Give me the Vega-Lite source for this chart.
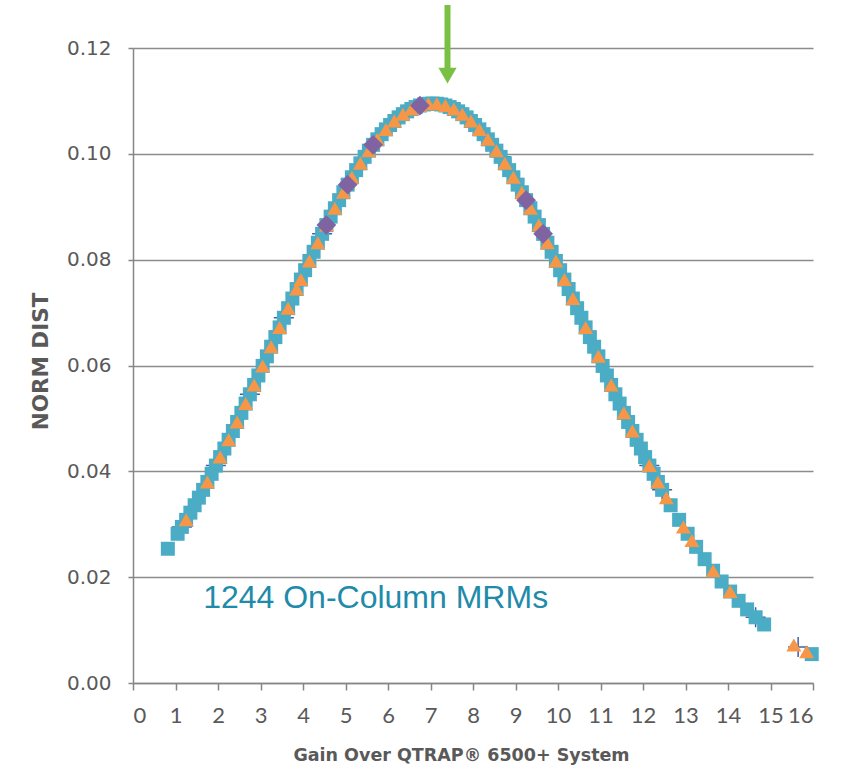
{
  "$schema": "https://vega.github.io/schema/vega-lite/v6.json",
  "autosize": "none",
  "width": 680,
  "height": 635,
  "padding": {"left": 133, "top": 48, "right": 33, "bottom": 86},
  "background": "white",
  "config": {"view": {"stroke": null}},
  "datasets": {
    "teal": [
      {"x":0.82,"y":0.02537},
      {"x":1.05,"y":0.02820},{"x":1.15,"y":0.02950},{"x":1.25,"y":0.03083},{"x":1.35,"y":0.03219},{"x":1.45,"y":0.03359},
      {"x":1.55,"y":0.03503},{"x":1.65,"y":0.03650},{"x":1.75,"y":0.03800},{"x":1.85,"y":0.03953},{"x":1.95,"y":0.04109},
      {"x":2.05,"y":0.04269},{"x":2.15,"y":0.04431},{"x":2.25,"y":0.04596},{"x":2.35,"y":0.04763},{"x":2.45,"y":0.04933},
      {"x":2.55,"y":0.05105},{"x":2.65,"y":0.05280},{"x":2.75,"y":0.05456},{"x":2.85,"y":0.05633},{"x":2.95,"y":0.05812},
      {"x":3.05,"y":0.05992},{"x":3.15,"y":0.06173},{"x":3.25,"y":0.06355},{"x":3.35,"y":0.06537},{"x":3.45,"y":0.06720},
      {"x":3.55,"y":0.06902},{"x":3.65,"y":0.07083},{"x":3.75,"y":0.07265},{"x":3.85,"y":0.07445},{"x":3.95,"y":0.07624},
      {"x":4.05,"y":0.07801},{"x":4.15,"y":0.07976},{"x":4.25,"y":0.08149},{"x":4.35,"y":0.08320},{"x":4.45,"y":0.08488},
      {"x":4.55,"y":0.08653},{"x":4.65,"y":0.08814},{"x":4.75,"y":0.08971},{"x":4.85,"y":0.09125},{"x":4.95,"y":0.09274},
      {"x":5.05,"y":0.09418},{"x":5.15,"y":0.09557},{"x":5.25,"y":0.09692},{"x":5.35,"y":0.09820},{"x":5.45,"y":0.09943},
      {"x":5.55,"y":0.10060},{"x":5.65,"y":0.10170},{"x":5.75,"y":0.10274},{"x":5.85,"y":0.10372},{"x":5.95,"y":0.10462},
      {"x":6.05,"y":0.10545},{"x":6.15,"y":0.10621},{"x":6.25,"y":0.10689},{"x":6.35,"y":0.10750},{"x":6.45,"y":0.10803},
      {"x":6.55,"y":0.10847},{"x":6.65,"y":0.10884},{"x":6.75,"y":0.10913},{"x":6.85,"y":0.10933},{"x":6.95,"y":0.10946},
      {"x":7.05,"y":0.10950},
      {"x":7.15,"y":0.10946},{"x":7.25,"y":0.10933},{"x":7.35,"y":0.10913},{"x":7.45,"y":0.10884},{"x":7.55,"y":0.10847},
      {"x":7.65,"y":0.10803},{"x":7.75,"y":0.10750},{"x":7.85,"y":0.10689},{"x":7.95,"y":0.10621},{"x":8.05,"y":0.10545},
      {"x":8.15,"y":0.10462},{"x":8.25,"y":0.10372},{"x":8.35,"y":0.10274},{"x":8.45,"y":0.10170},{"x":8.55,"y":0.10060},
      {"x":8.65,"y":0.09943},{"x":8.75,"y":0.09820},{"x":8.85,"y":0.09692},{"x":8.95,"y":0.09557},{"x":9.05,"y":0.09418},
      {"x":9.15,"y":0.09274},{"x":9.25,"y":0.09125},{"x":9.35,"y":0.08971},{"x":9.45,"y":0.08814},{"x":9.55,"y":0.08653},
      {"x":9.65,"y":0.08488},{"x":9.75,"y":0.08320},{"x":9.85,"y":0.08149},{"x":9.95,"y":0.07976},{"x":10.05,"y":0.07801},
      {"x":10.15,"y":0.07624},{"x":10.25,"y":0.07445},{"x":10.35,"y":0.07265},{"x":10.45,"y":0.07083},{"x":10.55,"y":0.06902},
      {"x":10.65,"y":0.06720},{"x":10.75,"y":0.06537},{"x":10.85,"y":0.06355},{"x":10.95,"y":0.06173},{"x":11.05,"y":0.05992},
      {"x":11.15,"y":0.05812},{"x":11.25,"y":0.05633},{"x":11.35,"y":0.05456},{"x":11.45,"y":0.05280},{"x":11.55,"y":0.05105},
      {"x":11.65,"y":0.04933},{"x":11.75,"y":0.04763},{"x":11.85,"y":0.04596},{"x":11.95,"y":0.04431},{"x":12.05,"y":0.04269},
      {"x":12.15,"y":0.04109},{"x":12.25,"y":0.03953},{"x":12.35,"y":0.03800},{"x":12.45,"y":0.03650},
      {"x":12.65,"y":0.03359},{"x":12.85,"y":0.03083},{"x":13.05,"y":0.02820},{"x":13.25,"y":0.02573},{"x":13.45,"y":0.02340},
      {"x":13.65,"y":0.02122},{"x":13.85,"y":0.01918},{"x":14.05,"y":0.01728},{"x":14.25,"y":0.01553},{"x":14.45,"y":0.01391},
      {"x":14.65,"y":0.01242},{"x":14.85,"y":0.01106},
      {"x":15.97,"y":0.00546}
    ],
    "orange": [
      {"x":1.25,"y":0.03083},{"x":1.75,"y":0.03800},{"x":2.05,"y":0.04269},{"x":2.25,"y":0.04596},{"x":2.45,"y":0.04933},
      {"x":2.65,"y":0.05280},{"x":2.85,"y":0.05633},{"x":3.05,"y":0.05992},{"x":3.25,"y":0.06355},{"x":3.45,"y":0.06720},
      {"x":3.65,"y":0.07083},{"x":3.85,"y":0.07445},{"x":3.95,"y":0.07624},{"x":4.15,"y":0.07976},{"x":4.35,"y":0.08320},
      {"x":4.55,"y":0.08653},{"x":4.75,"y":0.08971},{"x":4.95,"y":0.09274},{"x":5.15,"y":0.09557},{"x":5.35,"y":0.09820},
      {"x":5.55,"y":0.10060},{"x":5.75,"y":0.10274},{"x":5.95,"y":0.10462},{"x":6.15,"y":0.10621},{"x":6.35,"y":0.10750},
      {"x":6.55,"y":0.10847},{"x":6.75,"y":0.10913},{"x":6.95,"y":0.10946},{"x":7.15,"y":0.10946},{"x":7.35,"y":0.10913},
      {"x":7.55,"y":0.10847},{"x":7.75,"y":0.10750},{"x":7.95,"y":0.10621},{"x":8.15,"y":0.10462},{"x":8.35,"y":0.10274},
      {"x":8.55,"y":0.10060},{"x":8.75,"y":0.09820},{"x":8.95,"y":0.09557},{"x":9.15,"y":0.09274},{"x":9.35,"y":0.08971},
      {"x":9.55,"y":0.08653},{"x":9.75,"y":0.08320},{"x":9.95,"y":0.07976},{"x":10.15,"y":0.07624},{"x":10.35,"y":0.07265},
      {"x":10.65,"y":0.06720},{"x":10.95,"y":0.06173},{"x":11.25,"y":0.05633},{"x":11.55,"y":0.05105},{"x":11.75,"y":0.04763},
      {"x":12.15,"y":0.04109},{"x":12.35,"y":0.03800},{"x":12.55,"y":0.03503},{"x":12.95,"y":0.02950},{"x":13.15,"y":0.02695},
      {"x":13.65,"y":0.02122},{"x":14.05,"y":0.01728},{"x":15.55,"y":0.00720},{"x":15.85,"y":0.00592}
    ],
    "purple": [
      {"x":4.55,"y":0.08653},{"x":5.05,"y":0.09418},{"x":5.65,"y":0.10170},
      {"x":6.75,"y":0.10913},{"x":9.25,"y":0.09125},{"x":9.65,"y":0.08488}
    ],
    "cross": [
      {"x":1.15,"y":0.02950},{"x":1.95,"y":0.04109},{"x":2.75,"y":0.05456},{"x":3.55,"y":0.06902},
      {"x":4.45,"y":0.08488},{"x":8.65,"y":0.09943},{"x":12.15,"y":0.04109},{"x":12.45,"y":0.03650},
      {"x":14.65,"y":0.01242},{"x":15.65,"y":0.00680}
    ],
    "arrow": [{"x":7.40,"y":0.12813,"y2":0.11565}],
    "arrowhead": [{"x":7.40,"y":0.11478}],
    "label": [{"x":1.65,"y":0.01417,"t":"1244 On-Column MRMs"}]
  },
  "encoding": {
    "x": {
      "field": "x", "type": "quantitative",
      "scale": {"domain": [0, 16], "nice": false, "zero": false},
      "axis": {
        "values": [0,1,2,3,4,5,6,7,8,9,10,11,12,13,14,15,16],
        "format": "d",
        "grid": false,
        "domainColor": "#868686", "domainWidth": 1.5,
        "tickColor": "#868686", "tickWidth": 1.5, "tickSize": 7,
        "labelFont": "Lato", "labelFontSize": 22, "labelColor": "#595959",
        "labelPadding": 15,
        "title": "Gain Over QTRAP® 6500+ System",
        "titleFont": "DejaVu Sans", "titleFontSize": 17.5, "titleFontWeight": "bold", "titleColor": "#595959",
        "titleX": 328, "titleY": 72, "titleBaseline": "middle"
      }
    },
    "y": {
      "field": "y", "type": "quantitative",
      "scale": {"domain": [0, 0.12], "nice": false, "zero": false},
      "axis": {
        "values": [0, 0.02, 0.04, 0.06, 0.08, 0.10, 0.12],
        "format": ".2f",
        "grid": true, "gridColor": "#8c8c8c", "gridWidth": 1.4,
        "domainColor": "#868686", "domainWidth": 1.5,
        "tickColor": "#868686", "tickWidth": 1.5, "tickSize": 5,
        "labelFont": "DejaVu Sans", "labelFontSize": 20, "labelColor": "#595959",
        "labelPadding": 17,
        "title": "NORM DIST",
        "titleFont": "DejaVu Sans", "titleFontSize": 21.5, "titleFontWeight": "bold", "titleColor": "#595959",
        "titleX": -92, "titleY": 313, "titleBaseline": "middle"
      }
    }
  },
  "layer": [
    {
      "data": {"name": "cross"},
      "mark": {"type": "point", "shape": "M-1,0L1,0M0,-1L0,1", "filled": false, "stroke": "#3F5FA8", "strokeWidth": 1.5, "size": 400, "opacity": 1}
    },
    {
      "data": {"name": "teal"},
      "mark": {"type": "point", "shape": "square", "filled": true, "color": "#4BACC6", "size": 196, "opacity": 1}
    },
    {
      "data": {"name": "orange"},
      "mark": {"type": "point", "shape": "triangle-up", "filled": true, "color": "#F79646", "size": 225, "opacity": 1}
    },
    {
      "data": {"name": "purple"},
      "mark": {"type": "point", "shape": "diamond", "filled": true, "color": "#8064A2", "size": 390, "opacity": 1}
    },
    {
      "data": {"name": "arrow"},
      "mark": {"type": "rule", "color": "#7AC143", "strokeWidth": 6, "strokeCap": "butt"},
      "encoding": {"y2": {"field": "y2"}}
    },
    {
      "data": {"name": "arrowhead"},
      "mark": {"type": "point", "shape": "triangle-down", "filled": true, "color": "#7AC143", "size": 330, "opacity": 1}
    },
    {
      "data": {"name": "label"},
      "mark": {"type": "text", "align": "left", "baseline": "alphabetic", "font": "Liberation Sans", "fontSize": 32, "color": "#1F8BAA"},
      "encoding": {"text": {"field": "t"}}
    }
  ]
}
